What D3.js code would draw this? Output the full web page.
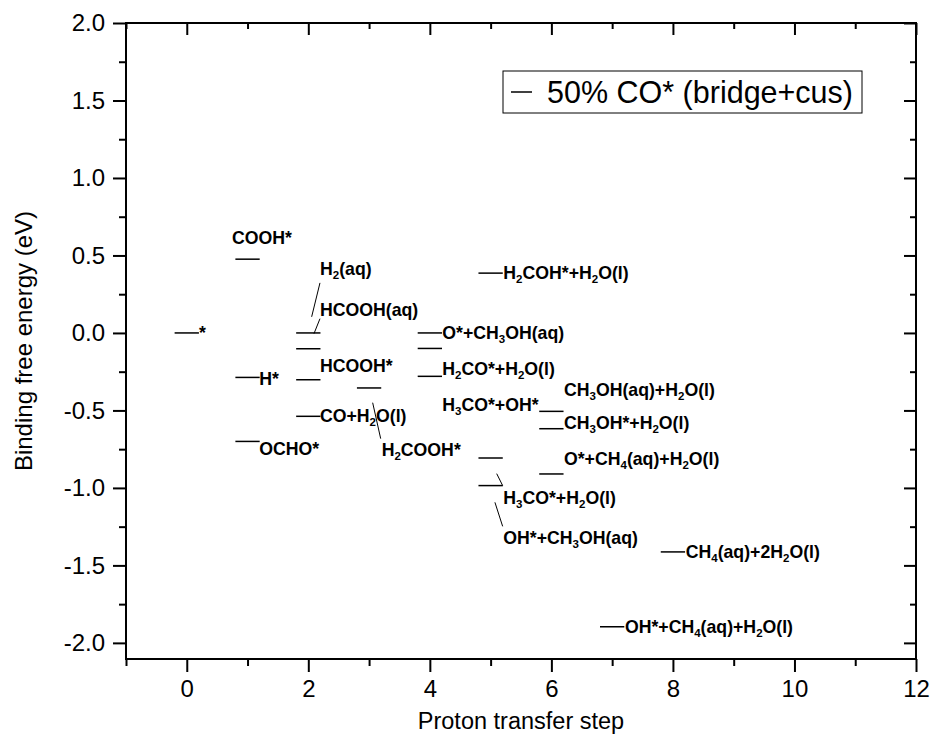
<!DOCTYPE html>
<html>
<head>
<meta charset="utf-8">
<script src="https://cdn.jsdelivr.net/npm/d3@7"></script>
<style>
  html, body { margin: 0; padding: 0; background: #fff; }
  svg { display: block; }
  text { font-family: Arial, "Liberation Sans", sans-serif; }
</style>
</head>
<body>
<div id="chart"></div>
<script>
// ---- data ----
const steps    = [0, 1, 1, 1, 2, 2, 2, 2, 3, 4, 4, 4, 5, 5, 5, 6, 6, 6, 7, 8];
const energies = [0.0, 0.476, -0.287, -0.70, 0.0, -0.102, -0.302, -0.538, -0.355,
                  0.0, -0.10, -0.28, 0.386, -0.807, -0.985, -0.506, -0.618, -0.91, -1.896, -1.413];
const seriesName = "50% CO* (bridge+cus)";

const labelText = ["*", "COOH*", "H_2(aq)", "HCOOH(aq)", "H*", "HCOOH*", "CO+H_2O(l)", "OCHO*",
  "H_2COOH*", "H_2COH*+H_2O(l)", "O*+CH_3OH(aq)", "H_2CO*+H_2O(l)", "H_3CO*+OH*",
  "CH_3OH(aq)+H_2O(l)", "CH_3OH*+H_2O(l)", "O*+CH_4(aq)+H_2O(l)", "H_3CO*+H_2O(l)",
  "OH*+CH_3OH(aq)", "CH_4(aq)+2H_2O(l)", "OH*+CH_4(aq)+H_2O(l)"];
const labelX = [0.20, 0.744, 2.192, 2.192, 1.193, 2.192, 2.192, 1.193, 3.207, 5.208, 4.204, 4.204,
  4.204, 6.207, 6.207, 6.207, 5.208, 5.208, 8.21, 7.21];
const labelY = [0.0, 0.617, 0.418, 0.153, -0.295, -0.21, -0.536, -0.745, -0.751, 0.388, 0.001, -0.233,
  -0.46, -0.364, -0.579, -0.813, -1.064, -1.320, -1.411, -1.894];

// leader lines: [x1, y1, x2, y2]
const leaderX1 = [2.192, 2.192, 3.059, 5.10, 5.071];
const leaderY1 = [0.323, 0.092, -0.450, -0.908, -1.093];
const leaderX2 = [2.055, 2.093, 3.191, 5.198, 5.198];
const leaderY2 = [0.104, -0.005, -0.682, -0.985, -1.248];

const xTicks = [0, 2, 4, 6, 8, 10, 12];
const xMinorTicks = [-1, 1, 3, 5, 7, 9, 11];
const yTicks = [-2.0, -1.5, -1.0, -0.5, 0.0, 0.5, 1.0, 1.5, 2.0];
const yMinorTicks = [-1.75, -1.25, -0.75, -0.25, 0.25, 0.75, 1.25, 1.75];
const xTitle = "Proton transfer step";
const yTitle = "Binding free energy (eV)";

// ---- layout ----
const W = 935, H = 755;
const M = { left: 126, top: 23, right: 19, bottom: 96 };
const iw = W - M.left - M.right, ih = H - M.top - M.bottom;

const svg = d3.select("#chart").append("svg").attr("width", W).attr("height", H);
const g = svg.append("g").attr("transform", `translate(${M.left},${M.top})`);

const x = d3.scaleLinear().domain([-1, 12]).range([0, iw]);
const y = d3.scaleLinear().domain([-2.104, 2.0]).range([ih, 0]);

const tickFS = 24;
function styleAxis(sel) {
  sel.select(".domain").remove();
  sel.selectAll(".tick line").attr("stroke", "#000").attr("stroke-width", 2);
  sel.selectAll(".tick text").attr("fill", "#000").attr("font-size", tickFS)
     .attr("font-family", "Arial, 'Liberation Sans', sans-serif");
}
const yFmt = d => d3.format(".1f")(d).replace("\u2212", "-");

// bottom axis
g.append("g").attr("transform", `translate(0,${ih})`)
  .call(d3.axisBottom(x).tickValues(xTicks).tickSize(13).tickPadding(8).tickFormat(d3.format("d")))
  .call(styleAxis);
g.append("g").attr("transform", `translate(0,${ih})`)
  .call(d3.axisBottom(x).tickValues(xMinorTicks).tickSize(7).tickFormat(""))
  .call(styleAxis);
// top axis (inward)
g.append("g")
  .call(d3.axisTop(x).tickValues(xTicks).tickSize(-12).tickFormat(""))
  .call(styleAxis);
g.append("g")
  .call(d3.axisTop(x).tickValues(xMinorTicks).tickSize(-6).tickFormat(""))
  .call(styleAxis);
// left axis
g.append("g")
  .call(d3.axisLeft(y).tickValues(yTicks).tickSize(13).tickPadding(8).tickFormat(yFmt))
  .call(styleAxis);
g.append("g")
  .call(d3.axisLeft(y).tickValues(yMinorTicks).tickSize(7).tickFormat(""))
  .call(styleAxis);
// right axis (inward)
g.append("g").attr("transform", `translate(${iw},0)`)
  .call(d3.axisRight(y).tickValues(yTicks).tickSize(-12).tickFormat(""))
  .call(styleAxis);
g.append("g").attr("transform", `translate(${iw},0)`)
  .call(d3.axisRight(y).tickValues(yMinorTicks).tickSize(-6).tickFormat(""))
  .call(styleAxis);

// frame
g.append("rect").attr("x", 0).attr("y", 0).attr("width", iw).attr("height", ih)
  .attr("fill", "none").attr("stroke", "#000").attr("stroke-width", 2);

// level segments
const halfW = 0.2;
g.append("g").selectAll("line.level")
  .data(steps.map((s, i) => ({ s, e: energies[i] })))
  .join("line").attr("class", "level")
  .attr("x1", d => x(d.s - halfW)).attr("x2", d => x(d.s + halfW))
  .attr("y1", d => y(d.e)).attr("y2", d => y(d.e))
  .attr("stroke", "#000").attr("stroke-width", 1.5);

// leader lines
g.append("g").selectAll("line.leader")
  .data(leaderX1.map((v, i) => [v, leaderY1[i], leaderX2[i], leaderY2[i]]))
  .join("line").attr("class", "leader")
  .attr("x1", d => x(d[0])).attr("y1", d => y(d[1]))
  .attr("x2", d => x(d[2])).attr("y2", d => y(d[3]))
  .attr("stroke", "#000").attr("stroke-width", 1);

// labels with subscripts
function addRich(sel, str, subSize) {
  let i = 0, pendingUp = false;
  while (i < str.length) {
    if (str[i] === "_" && i + 1 < str.length) {
      sel.append("tspan").attr("font-size", subSize).attr("dy", 4).text(str[i + 1]);
      pendingUp = true;
      i += 2;
    } else {
      let j = i;
      while (j < str.length && str[j] !== "_") j++;
      const t = sel.append("tspan").text(str.slice(i, j));
      if (pendingUp) { t.attr("dy", -4); pendingUp = false; }
      i = j;
    }
  }
}
const labFS = 17.7;
labelText.forEach((t, i) => {
  const tx = g.append("text")
    .attr("x", x(labelX[i])).attr("y", y(labelY[i]) + labFS * 0.36)
    .attr("font-size", labFS).attr("font-weight", "bold").attr("fill", "#000");
  addRich(tx, t, 11.5);
});

// legend
const lg = svg.append("g");
lg.append("rect").attr("x", 503).attr("y", 71).attr("width", 359).attr("height", 42)
  .attr("fill", "#fff").attr("stroke", "#000").attr("stroke-width", 1);
lg.append("line").attr("x1", 511).attr("x2", 532).attr("y1", 92).attr("y2", 92)
  .attr("stroke", "#000").attr("stroke-width", 1.5);
lg.append("text").attr("x", 547).attr("y", 103).attr("font-size", 30.5).attr("fill", "#000")
  .text(seriesName);

// axis titles
svg.append("text").attr("x", M.left + iw / 2).attr("y", 729).attr("text-anchor", "middle")
  .attr("font-size", 23.5).attr("fill", "#000").text(xTitle);
svg.append("text").attr("transform", `translate(32,${M.top + ih / 2}) rotate(-90)`)
  .attr("text-anchor", "middle").attr("font-size", 24).attr("fill", "#000").text(yTitle);
</script>
</body>
</html>
